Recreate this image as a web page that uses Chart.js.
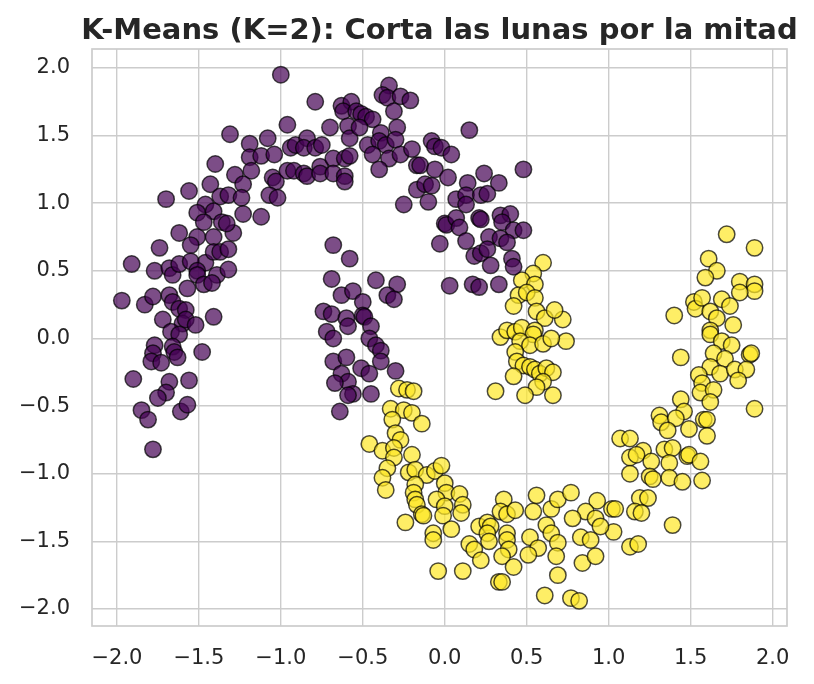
<!DOCTYPE html>
<html>
<head>
<meta charset="utf-8">
<script src="https://cdn.jsdelivr.net/npm/chart.js@4.4.1/dist/chart.umd.min.js"></script>
<style>
html,body{margin:0;padding:0;background:#fff;}
#c{display:block;}
</style>
</head>
<body>
<canvas id="c" width="814" height="684"></canvas>
<script>
const TITLE = "K-Means (K=2): Corta las lunas por la mitad";
const xTicks = [-2.0, -1.5, -1.0, -0.5, 0.0, 0.5, 1.0, 1.5, 2.0];
const yTicks = [-2.0, -1.5, -1.0, -0.5, 0.0, 0.5, 1.0, 1.5, 2.0];

// Cluster 0 (purple)
const cluster0 = [
[-1.00,1.95],[-0.79,1.75],[-0.96,1.58],[-1.31,1.51],[-1.19,1.44],[-1.08,1.48],[-1.19,1.34],[-1.12,1.35],[-1.04,1.36],[-1.18,1.24],
[-1.40,1.29],[-1.28,1.21],[-1.23,1.14],[-1.43,1.14],[-1.56,1.09],[-1.70,1.03],[-1.37,1.05],[-1.32,1.06],[-1.24,1.04],[-1.46,0.99],
[-1.51,0.93],[-1.41,0.94],[-1.23,0.92],[-1.12,0.90],[-1.36,0.86],[-1.29,0.78],[-1.62,0.78],[-1.51,0.75],[-1.41,0.75],[-1.47,0.86],
[-1.33,0.85],[-1.74,0.67],[-1.55,0.69],[-1.05,1.19],[-1.03,1.16],[-1.07,1.06],[-1.02,1.04],[-0.96,1.24],[-0.92,1.24],[-0.86,1.22],
[-0.84,1.20],[-0.76,1.27],[-0.76,1.22],[-0.94,1.41],[-0.91,1.43],[-0.84,1.48],[-0.86,1.41],[-0.79,1.41],[-0.75,1.43],
[-0.34,1.87],[-0.38,1.80],[-0.35,1.78],[-0.27,1.79],[-0.21,1.76],[-0.31,1.68],[-0.63,1.72],[-0.57,1.75],[-0.62,1.68],[-0.54,1.68],
[-0.51,1.66],[-0.48,1.64],[-0.44,1.62],[-0.70,1.56],[-0.59,1.57],[-0.58,1.48],[-0.68,1.33],[-0.61,1.33],[-0.58,1.35],[-0.68,1.22],
[-0.61,1.20],[-0.61,1.16],[-0.52,1.56],[-0.39,1.52],[-0.29,1.56],[-0.47,1.43],[-0.40,1.46],[-0.36,1.43],[-0.30,1.47],[-0.44,1.36],
[-0.34,1.33],[-0.27,1.36],[-0.40,1.25],[-0.20,1.40],[-0.08,1.46],[-0.06,1.42],[-0.02,1.41],[0.04,1.36],[-0.17,1.28],[-0.15,1.28],
[-0.06,1.25],[0.02,1.19],[0.15,1.54],[0.48,1.25],[-0.17,1.10],[-0.12,1.14],[-0.08,1.13],[-0.25,0.99],[-0.10,1.01],[0.14,1.15],
[0.07,1.03],[0.13,1.06],[0.13,0.99],[0.24,1.22],[0.33,1.15],[0.22,1.06],[0.26,1.07],[0.00,0.85],[0.01,0.84],[0.07,0.89],
[0.09,0.82],[0.21,0.89],[0.22,0.88],[0.34,0.91],[0.40,0.92],[0.35,0.86],[0.42,0.80],[0.48,0.80],[-0.03,0.70],[0.13,0.72],
[0.27,0.75],[0.34,0.74],[0.38,0.71],[-0.68,0.69],
[-1.91,0.55],[-1.77,0.50],[-1.68,0.52],[-1.66,0.47],[-1.62,0.55],[-1.46,0.56],[-1.41,0.64],[-1.37,0.64],[-1.32,0.66],[-1.55,0.57],
[-1.51,0.50],[-1.51,0.47],[-1.39,0.47],[-1.32,0.51],[-1.47,0.40],[-1.42,0.41],[-1.57,0.37],[-1.97,0.28],[-1.83,0.25],[-1.78,0.31],
[-1.68,0.32],[-1.66,0.27],[-1.62,0.22],[-1.58,0.21],[-1.72,0.14],[-1.60,0.11],[-1.58,0.14],[-1.52,0.10],[-1.67,0.05],[-1.62,0.03],
[-1.41,0.16],[-1.77,-0.05],[-1.78,-0.11],[-1.79,-0.17],[-1.73,-0.18],[-1.66,-0.06],[-1.65,-0.10],[-1.63,-0.14],[-1.48,-0.10],[-1.90,-0.30],
[-1.68,-0.32],[-1.56,-0.31],[-1.70,-0.40],[-1.75,-0.44],[-1.85,-0.53],[-1.81,-0.60],[-1.61,-0.54],[-1.57,-0.49],[-1.78,-0.82],
[-0.58,0.59],[-0.69,0.44],[-0.42,0.43],[-0.29,0.40],[-0.35,0.32],[-0.31,0.29],[-0.63,0.32],[-0.56,0.35],[-0.50,0.27],[-0.74,0.20],
[-0.69,0.18],[-0.60,0.15],[-0.59,0.09],[-0.50,0.17],[-0.49,0.16],[-0.45,0.09],[-0.72,0.05],[-0.68,0.00],[-0.46,0.00],[-0.42,-0.05],
[-0.39,-0.09],[-0.68,-0.17],[-0.60,-0.14],[-0.39,-0.17],[-0.51,-0.22],[-0.46,-0.26],[-0.63,-0.26],[-0.59,-0.32],[-0.67,-0.33],[-0.56,-0.41],
[-0.59,-0.42],[-0.45,-0.41],[-0.30,-0.24],[-0.64,-0.54],[0.18,0.61],[0.22,0.63],[0.26,0.66],[0.28,0.54],[0.41,0.59],[0.42,0.53],
[0.03,0.39],[0.17,0.40],[0.21,0.38],[0.33,0.40]
];

// Cluster 1 (yellow)
const cluster1 = [
[1.72,0.77],
[1.89,0.67],[1.61,0.59],[1.66,0.50],[1.59,0.45],[1.80,0.42],[1.89,0.40],[1.89,0.35],[1.80,0.34],[1.52,0.27],[1.53,0.22],
[1.57,0.30],[1.69,0.29],[1.74,0.24],[1.62,0.20],[1.66,0.15],[1.40,0.17],[1.76,0.10],[1.62,0.06],[1.62,0.03],[1.69,-0.02],
[1.75,-0.05],[1.64,-0.11],[1.71,-0.15],[1.86,-0.12],[1.87,-0.11],[1.44,-0.14],[1.62,-0.21],[1.68,-0.26],[1.77,-0.23],[1.84,-0.23],
[1.79,-0.31],[1.55,-0.27],[1.57,-0.33],[1.56,-0.40],[1.64,-0.38],[1.62,-0.47],[1.44,-0.45],[1.46,-0.54],[1.89,-0.52],[1.31,-0.57],
[1.32,-0.62],[1.41,-0.59],[1.58,-0.60],[1.60,-0.60],[1.36,-0.68],[1.49,-0.67],[1.60,-0.72],[1.07,-0.74],[1.13,-0.74],[0.72,0.14],
[0.74,-0.02],
[0.60,0.56],[0.54,0.48],[0.47,0.43],[0.55,0.40],[0.45,0.32],[0.50,0.34],[0.55,0.30],[0.42,0.24],[0.56,0.20],[0.61,0.15],
[0.67,0.21],[0.34,0.01],[0.38,0.06],[0.43,0.05],[0.47,0.08],[0.55,0.06],[0.54,0.03],[0.46,-0.02],[0.52,-0.05],[0.60,-0.04],
[0.65,0.00],[0.43,-0.10],[0.44,-0.17],[0.48,-0.20],[0.52,-0.21],[0.42,-0.28],[0.55,-0.23],[0.58,-0.26],[0.62,-0.22],[0.66,-0.25],
[0.60,-0.32],[0.56,-0.36],[0.66,-0.42],[0.49,-0.42],[0.31,-0.39],[-0.28,-0.37],[-0.23,-0.38],[-0.19,-0.39],[-0.33,-0.52],[-0.25,-0.53],
[-0.20,-0.55],[-0.32,-0.60],[-0.14,-0.63],[-0.30,-0.70],
[-0.46,-0.78],[-0.38,-0.83],[-0.27,-0.75],[-0.31,-0.81],[-0.31,-0.88],[-0.20,-0.86],[-0.35,-0.96],[-0.38,-1.03],[-0.36,-1.12],[-0.22,-0.99],
[-0.18,-0.97],[-0.11,-1.01],[-0.06,-0.98],[-0.02,-0.94],[-0.18,-1.08],[-0.19,-1.14],[-0.18,-1.19],[-0.17,-1.23],[0.00,-1.07],[0.01,-1.14],
[-0.05,-1.19],[0.00,-1.24],[0.09,-1.15],[0.11,-1.23],[-0.14,-1.30],[-0.13,-1.31],[-0.24,-1.36],[-0.01,-1.31],[0.10,-1.29],[0.04,-1.41],
[-0.07,-1.44],[-0.07,-1.49],[-0.04,-1.72],[0.11,-1.72],[0.21,-1.39],[0.26,-1.36],[0.28,-1.39],[0.26,-1.44],[0.27,-1.50],[0.15,-1.52],
[0.18,-1.56],[0.22,-1.64],[0.36,-1.19],[0.34,-1.28],[0.38,-1.30],[0.43,-1.27],[0.38,-1.44],[0.38,-1.49],[0.39,-1.56],[0.35,-1.61],
[0.42,-1.69],[0.33,-1.80],[0.35,-1.80],[0.56,-1.16],[0.54,-1.28],[0.65,-1.26],[0.62,-1.38],[0.69,-1.19],[0.52,-1.47],[0.57,-1.55],
[0.51,-1.60],[0.65,-1.44],[0.69,-1.51],[0.68,-1.61],[0.61,-1.90],[0.69,-1.75],
[1.21,-0.83],[1.13,-0.88],[1.17,-0.86],[1.26,-0.91],[1.34,-0.82],[1.39,-0.81],[1.37,-0.92],[1.48,-0.87],[1.49,-0.86],[1.56,-0.91],
[1.13,-1.00],[1.25,-1.02],[1.27,-1.04],[1.37,-1.03],[1.45,-1.06],[1.57,-1.05],[1.19,-1.18],[1.24,-1.18],[1.16,-1.28],[1.20,-1.29],
[1.39,-1.38],[0.93,-1.20],[1.02,-1.26],[1.04,-1.26],[1.03,-1.43],[1.13,-1.54],[1.18,-1.52],[0.77,-1.14],[0.86,-1.28],[0.92,-1.33],
[0.95,-1.39],[0.78,-1.33],[0.83,-1.47],[0.89,-1.49],[0.84,-1.66],[0.92,-1.61],[0.77,-1.92],[0.82,-1.94]
];

const toPts = arr => arr.map(p => ({x: p[0], y: p[1]}));
const fmt = v => (v < 0 ? '\u2212' : '') + Math.abs(v).toFixed(1);
const TXT = '#262626';
const GRID = '#cccccc';

const framePlugin = {
  id: 'frame',
  afterDatasetsDraw(chart) {
    const {ctx, chartArea: a} = chart;
    ctx.save();
    ctx.strokeStyle = GRID;
    ctx.lineWidth = 1.7;
    ctx.strokeRect(a.left, a.top, a.right - a.left, a.bottom - a.top);
    ctx.restore();
  },
  afterDraw(chart) {
    const {ctx, chartArea: a} = chart;
    ctx.save();
    ctx.fillStyle = TXT;
    ctx.font = 'bold 29px "DejaVu Sans"';
    ctx.textAlign = 'center';
    ctx.textBaseline = 'alphabetic';
    ctx.fillText(TITLE, (a.left + a.right) / 2, 39);
    ctx.restore();
  }
};

new Chart(document.getElementById('c'), {
  type: 'scatter',
  data: {
    datasets: [
      {data: toPts(cluster0), backgroundColor: 'rgba(68,1,84,0.7)', borderColor: 'rgba(0,0,0,0.7)'},
      {data: toPts(cluster1), backgroundColor: 'rgba(253,231,37,0.7)', borderColor: 'rgba(0,0,0,0.7)'}
    ]
  },
  options: {
    responsive: false,
    animation: false,
    devicePixelRatio: 1,
    layout: {padding: {top: 49, right: 27, bottom: 0, left: 0}},
    elements: {point: {radius: 8.2, borderWidth: 1.5, hoverRadius: 8.2}},
    plugins: {legend: {display: false}, tooltip: {enabled: false}, title: {display: false}},
    scales: {
      x: {
        type: 'linear', min: -2.152, max: 2.088,
        afterBuildTicks: s => { s.ticks = xTicks.map(v => ({value: v})); },
        afterFit: s => { s.height = 58; },
        grid: {color: GRID, lineWidth: 1.4, drawTicks: false},
        border: {display: false},
        ticks: {color: TXT, font: {family: 'DejaVu Sans', size: 21}, padding: 20, callback: v => fmt(v), maxRotation: 0}
      },
      y: {
        type: 'linear', min: -2.126, max: 2.140,
        afterBuildTicks: s => { s.ticks = yTicks.map(v => ({value: v})); },
        afterFit: s => { s.width = 92; },
        grid: {color: GRID, lineWidth: 1.4, drawTicks: false},
        border: {display: false},
        ticks: {color: TXT, font: {family: 'DejaVu Sans', size: 21}, padding: 22, callback: v => fmt(v)}
      }
    }
  },
  plugins: [framePlugin]
});
</script>
</body>
</html>
